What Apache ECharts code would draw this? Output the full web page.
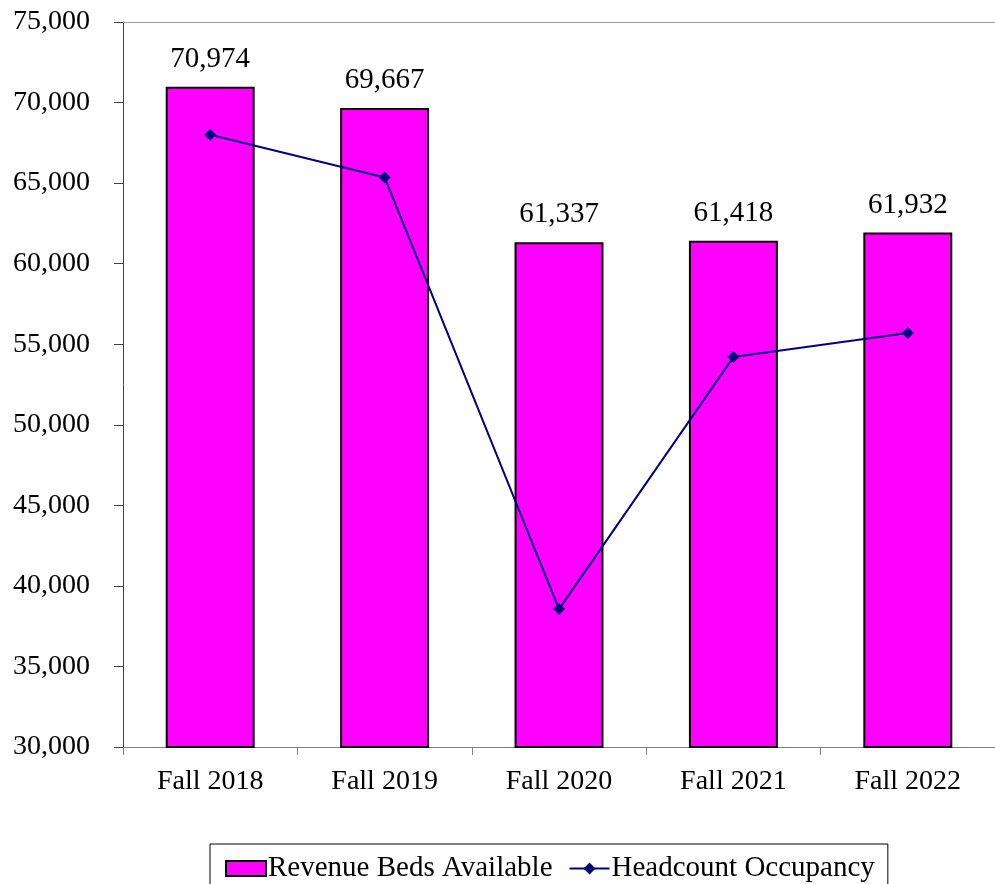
<!DOCTYPE html>
<html>
<head>
<meta charset="utf-8">
<script src="https://cdn.jsdelivr.net/npm/echarts@6/dist/echarts.min.js"></script>
<style>html,body{margin:0;padding:0;background:#fff}#c{width:995px;height:884px}</style>
</head>
<body>
<div id="c"></div>
<script>
const categories = ["Fall 2018", "Fall 2019", "Fall 2020", "Fall 2021", "Fall 2022"];
const revenueBeds = [70974, 69667, 61337, 61418, 61932];
const headcount = [68000, 65350, 38560, 54200, 55700];
const yTicks = { min: 30000, max: 75000, interval: 5000 };

const chart = echarts.init(document.getElementById('c'));
const font = '"Liberation Serif", "Times New Roman", serif';
chart.setOption({
  animation: false,
  textStyle: { fontFamily: font },
  grid: { left: 123, right: 0, top: 22, bottom: 137 },
  xAxis: [{
    type: 'category',
    data: categories,
    axisLine: { lineStyle: { color: '#808080', width: 1 } },
    axisTick: { show: true, alignWithLabel: false, length: 8, lineStyle: { color: '#808080' } },
    axisLabel: { color: '#000', fontSize: 28, fontFamily: font, margin: 21 }
  }, {
    type: 'category',
    data: categories,
    position: 'top',
    axisLine: { lineStyle: { color: '#a0a0a0', width: 1 } },
    axisTick: { show: false },
    axisLabel: { show: false }
  }],
  yAxis: {
    type: 'value',
    min: yTicks.min, max: yTicks.max, interval: yTicks.interval,
    axisLine: { show: true, lineStyle: { color: '#404040', width: 1 } },
    axisTick: { show: true, length: 9, lineStyle: { color: '#404040' } },
    splitLine: { show: false },
    axisLabel: {
      color: '#000', fontSize: 28, fontFamily: font, margin: 33,
      formatter: v => v.toLocaleString('en-US')
    }
  },
  legend: {
    top: 844,
    left: 210,
    borderColor: '#000',
    borderWidth: 1,
    padding: [10, 13, 14, 15],
    itemGap: 16,
    itemWidth: 40,
    itemHeight: 15,
    textStyle: { fontSize: 29, color: '#000', fontFamily: font, padding: [0, 0, 0, -3] },
    data: [{ name: 'Revenue Beds Available', icon: 'rect' }, { name: 'Headcount Occupancy' }]
  },
  series: [{
    name: 'Revenue Beds Available',
    type: 'bar',
    data: revenueBeds,
    barWidth: '51%',
    itemStyle: { color: '#ff00ff', borderColor: '#000', borderWidth: 2 },
    label: {
      show: true, position: 'top', distance: 13,
      color: '#000', fontSize: 29, fontFamily: font,
      formatter: p => p.value.toLocaleString('en-US')
    }
  }, {
    name: 'Headcount Occupancy',
    type: 'line',
    data: headcount,
    symbol: 'diamond',
    symbolSize: 12,
    lineStyle: { color: '#000080', width: 2 },
    itemStyle: { color: '#000080' }
  }]
});
</script>
</body>
</html>
